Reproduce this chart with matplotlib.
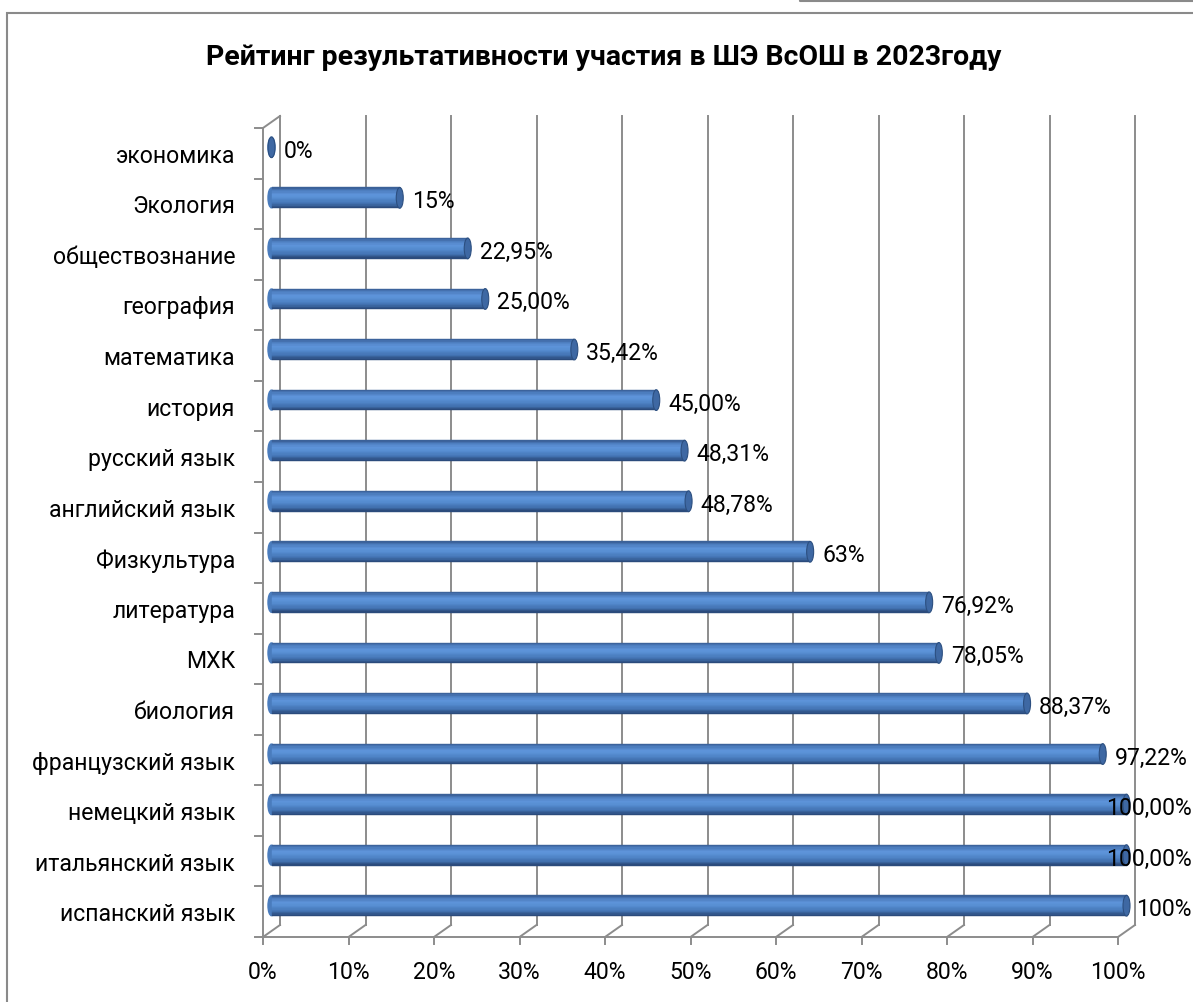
import matplotlib
matplotlib.use('Agg')
import matplotlib.pyplot as plt
import numpy as np
from matplotlib.transforms import ScaledTranslation
from matplotlib.patches import Ellipse, Rectangle
from matplotlib.lines import Line2D
from matplotlib.colors import LinearSegmentedColormap

# ---------------- data (top to bottom as in the chart) ----------------
categories = ['экономика', 'Экология', 'обществознание', 'география', 'математика',
              'история', 'русский язык', 'английский язык', 'Физкультура', 'литература',
              'МХК', 'биология', 'французский язык', 'немецкий язык', 'итальянский язык',
              'испанский язык']
values = [0, 15, 22.95, 25.00, 35.42, 45.00, 48.31, 48.78, 63, 76.92, 78.05, 88.37,
          97.22, 100.00, 100.00, 100]
value_labels = ['0%', '15%', '22,95%', '25,00%', '35,42%', '45,00%', '48,31%', '48,78%',
                '63%', '76,92%', '78,05%', '88,37%', '97,22%', '100,00%', '100,00%', '100%']
tick_values = [0, 10, 20, 30, 40, 50, 60, 70, 80, 90, 100]
tick_labels = ['0%', '10%', '20%', '30%', '40%', '50%', '60%', '70%', '80%', '90%', '100%']
title = 'Рейтинг результативности участия в ШЭ ВсОШ в 2023году'

FAM = ['Roboto', 'DejaVu Sans']
plt.rcParams['font.family'] = FAM

W, H = 1193, 1003
DPI = 100
fig = plt.figure(figsize=(W / DPI, H / DPI), dpi=DPI)
fig.patch.set_facecolor('white')


def fx(x):
    return x / W


def fy(y):
    return 1 - y / H


n = len(categories)
ax = fig.add_axes([fx(263), fy(938), 855 / W, 809 / H])
ax.set_xlim(0, 100)
ax.set_ylim(-0.5, n - 0.5)
ax.axis('off')


def shifted(dx, dy):
    return ax.transData + ScaledTranslation(dx / DPI, dy / DPI, fig.dpi_scale_trans)


back = shifted(17, 12)
mid = shifted(8.5, 6)

grid_c = '#8c8c8c'
grid_lw = 1.4
inv = ax.transData.inverted()

ylo, yhi = -0.5, n - 0.5

# back wall gridlines + floor slants + front ticks
for v in tick_values:
    ax.add_line(Line2D([v, v], [ylo, yhi], transform=back, color=grid_c, lw=grid_lw,
                       clip_on=False, zorder=1))
    bx, by = inv.transform(back.transform((v, ylo)))
    ax.add_line(Line2D([v, bx], [ylo, by], color=grid_c, lw=grid_lw, clip_on=False, zorder=1))
    ax.add_line(Line2D([v, v], [ylo, ylo - 7 / (809 / n)], color=grid_c, lw=grid_lw,
                       clip_on=False, zorder=1))

# left wall: front axis line, top slant, ticks
ax.add_line(Line2D([0, 0], [ylo, yhi], color=grid_c, lw=grid_lw, clip_on=False, zorder=1))
bx, by = inv.transform(back.transform((0, yhi)))
ax.add_line(Line2D([0, bx], [yhi, by], color=grid_c, lw=grid_lw, clip_on=False, zorder=1))
for k in range(n + 1):
    ax.add_line(Line2D([-8 / 8.55, 0], [k - 0.5, k - 0.5], color=grid_c, lw=grid_lw,
                       clip_on=False, zorder=1))
# front floor edge
ax.add_line(Line2D([0, 100], [ylo, ylo], color=grid_c, lw=grid_lw, clip_on=False, zorder=1))

# ---------------- cylinder bars ----------------
ypos = np.arange(n)[::-1]
bar_h = 0.41
cmap = LinearSegmentedColormap.from_list('cyl', [
    (0.0, '#3b6198'), (0.12, '#4b7bbc'), (0.35, '#5f96dc'), (0.55, '#548bcf'),
    (0.80, '#4373b2'), (1.0, '#2b4b7c')])
N = 16
# rounded left ends
for y in ypos:
    ax.add_patch(Ellipse((0, y), 7 / 8.55, bar_h * 0.96, transform=mid, color='#4a7cbd',
                         zorder=2, clip_on=False))
for k in range(N):
    off = bar_h / 2 - (k + 0.5) * bar_h / N
    c = cmap(k / (N - 1))
    ax.barh(ypos + off, values, height=bar_h / N, left=0, color=c, edgecolor=c,
            linewidth=0.3, transform=mid, zorder=3, clip_on=False)
# end caps
for y, v in zip(ypos, values):
    ax.add_patch(Ellipse((v, y), 7 / 8.55, bar_h, transform=mid, facecolor='#3e68a3',
                         edgecolor='#2c4f80', lw=0.8, zorder=4, clip_on=False))

# ---------------- texts ----------------
renderer = fig.canvas.get_renderer()


def fit(text, target_w, weight='normal'):
    t = fig.text(0, 0, text, fontsize=20, fontweight=weight)
    w = t.get_window_extent(renderer).width
    t.remove()
    return 20 * target_w / w


label_fs = fit('испанский язык', 175)
title_fs = fit(title, 794, 'bold')

fig.text(fx(604), fy(65), title, ha='center', va='baseline', fontsize=title_fs,
         fontweight='bold', color='black')

for y, cat in zip(ypos, categories):
    ax.text(0, y, cat, transform=shifted(-28, -2), ha='right', va='center',
            fontsize=label_fs, color='black', clip_on=False)

for v, lab in zip(tick_values, tick_labels):
    ax.text(v, ylo, lab, transform=shifted(0, -35), ha='center', va='center',
            fontsize=label_fs, color='black', clip_on=False)

data_texts = []
for y, v, lab in zip(ypos, values, value_labels):
    t = ax.text(v, y, lab, transform=mid + ScaledTranslation(12 / DPI, -3 / DPI, fig.dpi_scale_trans),
                ha='left', va='center', fontsize=label_fs, color='black', clip_on=False,
                zorder=6)
    data_texts.append((t, y))

# keep data labels inside the chart area (right edge)
right_px = 1192
for t, y in data_texts:
    bb = t.get_window_extent(renderer)
    if bb.x1 > right_px:
        ydisp = (mid + ScaledTranslation(0, -3 / DPI, fig.dpi_scale_trans)).transform((0, y))[1]
        t.set_transform(fig.transFigure)
        t.set_position((right_px / W, ydisp / H))
        t.set_ha('right')

# chart area border and top box line
fig.add_artist(Rectangle((fx(7), fy(1030)), (1230 - 7) / W, (1030 - 14) / H,
                         transform=fig.transFigure, fill=False, edgecolor='#8a8a8a', lw=1.5))
fig.add_artist(Line2D([fx(800), fx(800), fx(1200)], [fy(-5), fy(1.5), fy(1.5)],
                      transform=fig.transFigure, color='#8a8a8a', lw=1.5))

fig.savefig('out.png', dpi=DPI, facecolor='white')
